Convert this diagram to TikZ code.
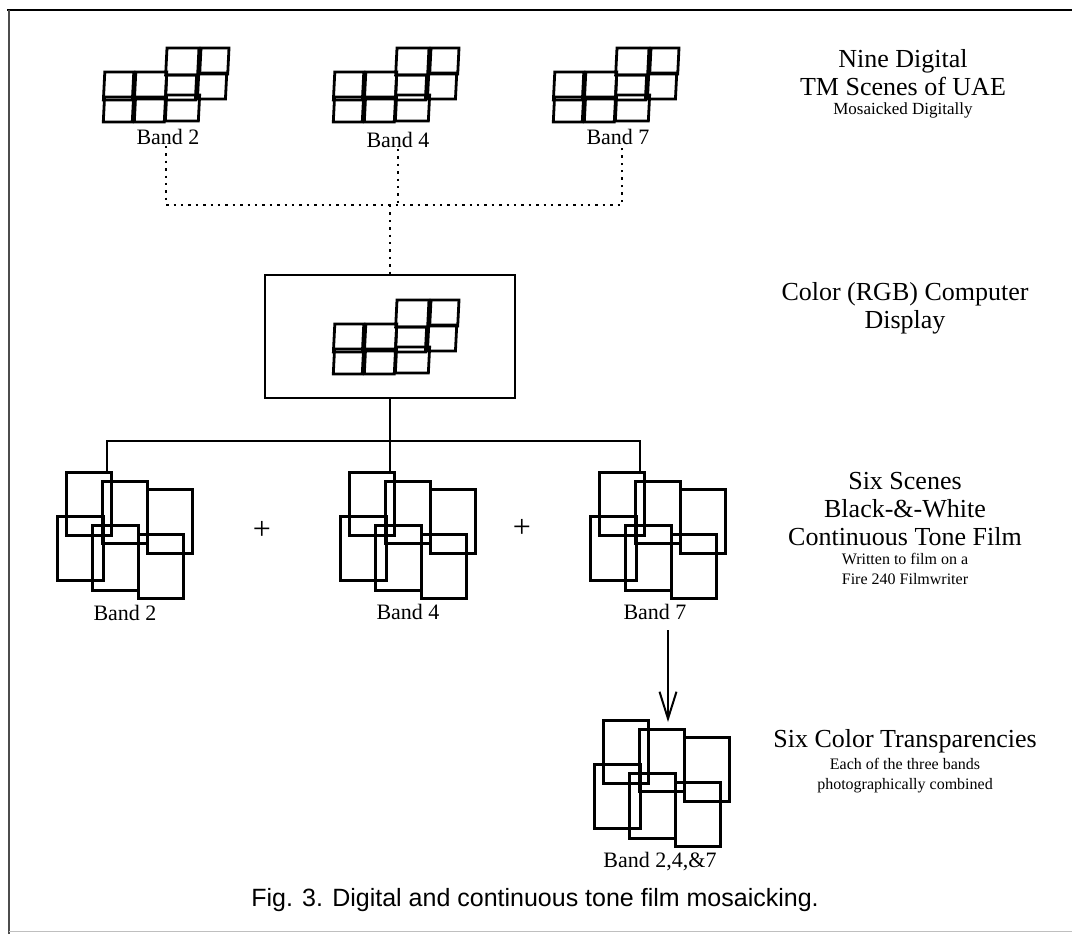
\documentclass[tikz,border=0pt]{standalone}
\usepackage{fontspec}
\setmainfont{Liberation Serif}
\newfontfamily\capfont{Liberation Sans}
\usetikzlibrary{arrows.meta}
\newcommand{\DigiCells}{%
  \draw[cell] (61,0) rectangle (93,27);
  \draw[cell] (95,0) rectangle (123,26);
  \draw[cell] (0,24) rectangle (29,52);
  \draw[cell] (31,24) rectangle (62,51);
  \draw[cell] (62,27) rectangle (92,52);
  \draw[cell] (94,25) rectangle (122,51);
  \draw[cell] (1,49) rectangle (30,74);
  \draw[cell] (32,49) rectangle (62,74);
  \draw[cell] (63,47) rectangle (96,73);
}
\newcommand{\FilmCells}{%
  \draw[film] (0,0) rectangle ++(45,63);
  \draw[film] (36,9) rectangle ++(45,62);
  \draw[film] (81,17) rectangle ++(45,64);
  \draw[film] (-9,44) rectangle ++(46,64);
  \draw[film] (26,53) rectangle ++(46,65);
  \draw[film] (72,62) rectangle ++(45,64);
}
\tikzset{
  cell/.style={line width=2.8pt, line join=miter},
  film/.style={line width=3pt},
  conn/.style={line width=2.2pt},
  dotline/.style={line width=2.4pt, dash pattern=on 2.4pt off 5pt},
  title/.style={align=center, inner sep=0pt, font=\fontsize{26}{28}\selectfont},
  subtitle/.style={align=center, inner sep=0pt, font=\fontsize{16}{20}\selectfont},
  band/.style={inner sep=1pt, font=\fontsize{22}{24}\selectfont},
  plussign/.style={inner sep=0pt, font=\fontsize{32}{32}\selectfont},
}
\begin{document}
\begin{tikzpicture}[x=1pt,y=-1pt]
\useasboundingbox (0,0) rectangle (1072,934);
\fill[white] (0,0) rectangle (1072,934);
% frame
\draw[line width=2.4pt] (7,10) -- (1072,10);
\draw[line width=1.6pt, black!70] (9,10) -- (9,934);
\draw[line width=1pt, black!25] (9,931) -- (1072,931);

% top digital mosaics
\coordinate (dm2) at (106,48);
\coordinate (dm4) at (336,48);
\coordinate (dm7) at (556,48);
\begin{scope}[shift={(dm2)}, xslant=0.05] \DigiCells \end{scope}
\begin{scope}[shift={(dm4)}, xslant=0.05] \DigiCells \end{scope}
\begin{scope}[shift={(dm7)}, xslant=0.05] \DigiCells \end{scope}
\node[band] (lb2) at (168,137) {Band 2};
\node[band] (lb4) at (398,140) {Band 4};
\node[band] (lb7) at (618,137) {Band 7};

% dotted connectors
\coordinate (dotL) at (166,205);
\coordinate (dotR) at (622,205);
\coordinate (dotC) at (390,205);
\draw[dotline] (lb2.south -| dotL) -- (dotL) -- (dotR) -- (lb7.south -| dotR);
\draw[dotline] (lb4.south) -- (lb4.south |- dotC);

% display
\node[draw, line width=2.8pt, minimum width=250pt, minimum height=123pt, inner sep=0pt] (disp) at (390,336.5) {};
\draw[dotline] (dotC) -- (disp.north);
\coordinate (dmd) at (336,300);
\begin{scope}[shift={(dmd)}, xslant=0.05] \DigiCells \end{scope}

% solid tree
\coordinate (hub) at (390,441);
\coordinate (f2top) at (107,472);
\coordinate (f4top) at (390,472);
\coordinate (f7top) at (640,472);
\draw[conn] (disp.south) -- (f4top);
\draw[conn] (f2top) |- (hub) -| (f7top);

% film mosaics
\coordinate (fm2) at (66,472);
\coordinate (fm4) at (349,472);
\coordinate (fm7) at (599,472);
\coordinate (fmc) at (603,720);
\begin{scope}[shift={(fm2)}] \FilmCells \end{scope}
\begin{scope}[shift={(fm4)}] \FilmCells \end{scope}
\begin{scope}[shift={(fm7)}] \FilmCells \end{scope}
\begin{scope}[shift={(fmc)}] \FilmCells \end{scope}
\node[band] (fb2) at (125,613) {Band 2};
\node[band] (fb4) at (408,612) {Band 4};
\node[band] (fb7) at (655,612) {Band 7};
\node[plussign] (plus1) at (262,530) {+};
\node[plussign] (plus2) at (522,528) {+};
\node[band] (fbc) at (660,862) {Band 2,4,\&7};

% arrow
\coordinate (arrS) at (668,630);
\coordinate (arrE) at (668,722);
\draw[conn, -{Straight Barb[length=27pt, width=17pt, line width=2pt]}] (arrS) -- (arrE);

% right column texts
\node[title] (t1) at (903,73) {Nine Digital\\TM Scenes of UAE};
\node[subtitle, font=\fontsize{17}{20}\selectfont] (t1s) at (903,110) {Mosaicked Digitally};
\node[title] (t2) at (905,308) {Color (RGB) Computer\\Display};
\node[title] (t3) at (905,509) {Six Scenes\\Black-\&-White\\Continuous Tone Film};
\node[subtitle] (t3s) at (905,569) {Written to film on a\\Fire 240 Filmwriter};
\node[title] (t4) at (905,741) {Six Color Transparencies};
\node[subtitle] (t4s) at (905,776) {Each of the three bands\\photographically combined};

% caption
\node[inner sep=0pt, font=\capfont\fontsize{25}{28}\selectfont] (cap) at (535,900) {Fig. 3. Digital and continuous tone film mosaicking.};
\end{tikzpicture}
\end{document}
